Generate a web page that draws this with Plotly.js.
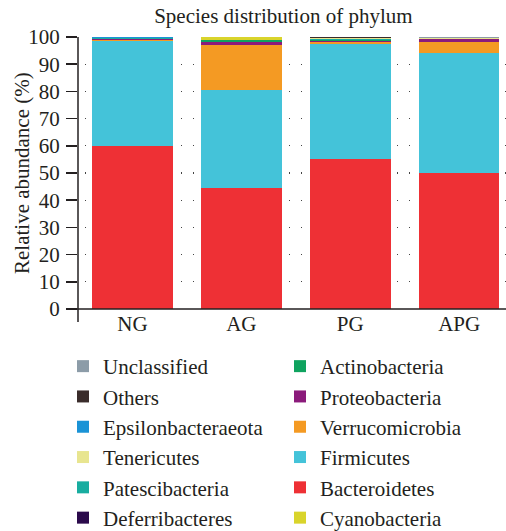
<!DOCTYPE html>
<html>
<head>
<meta charset="utf-8">
<script src="https://cdn.plot.ly/plotly-3.0.1.min.js"></script>
<style>html,body{margin:0;padding:0;background:#fff;}#chart{width:506px;height:531px;}</style>
</head>
<body>
<div id="chart"></div>
<script>
const groups = ["NG", "AG", "PG", "APG"];
// stacking order bottom -> top
const phyla = ["Bacteroidetes", "Firmicutes", "Verrucomicrobia", "Proteobacteria", "Actinobacteria",
  "Deferribacteres", "Patescibacteria", "Tenericutes", "Epsilonbacteraeota", "Others", "Unclassified", "Cyanobacteria"];
const Bacteroidetes      = [60.0, 44.5, 55.0, 50.0];
const Firmicutes         = [38.5, 36.0, 42.5, 44.0];
const Verrucomicrobia    = [0.4, 16.5, 0.5, 4.3];
const Proteobacteria     = [0.3, 1.0, 0.6, 0.8];
const Actinobacteria     = [0.2, 1.0, 0.2, 0.1];
const Deferribacteres    = [0.05, 0.0, 0.2, 0.1];
const Patescibacteria    = [0.3, 0.0, 0.4, 0.1];
const Tenericutes        = [0.05, 0.0, 0.2, 0.2];
const Epsilonbacteraeota = [0.05, 0.0, 0.2, 0.1];
const Others             = [0.05, 0.0, 0.1, 0.1];
const Unclassified       = [0.05, 0.0, 0.1, 0.2];
const Cyanobacteria      = [0.05, 1.0, 0.0, 0.0];
const values = {Bacteroidetes, Firmicutes, Verrucomicrobia, Proteobacteria, Actinobacteria,
  Deferribacteres, Patescibacteria, Tenericutes, Epsilonbacteraeota, Others, Unclassified, Cyanobacteria};
const colors = {
  Unclassified: "#8c9ca8", Others: "#3a2c2b", Epsilonbacteraeota: "#1a93d6", Tenericutes: "#e8e590",
  Patescibacteria: "#18ada0", Deferribacteres: "#2b0a4b", Actinobacteria: "#0fa35f", Proteobacteria: "#8b1b7b",
  Verrucomicrobia: "#f49a23", Firmicutes: "#44c3d9", Bacteroidetes: "#ee3035", Cyanobacteria: "#d9d42b"
};
// legend order (row-major, two columns)
const legendOrder = ["Unclassified", "Actinobacteria", "Others", "Proteobacteria", "Epsilonbacteraeota",
  "Verrucomicrobia", "Tenericutes", "Firmicutes", "Patescibacteria", "Bacteroidetes", "Deferribacteres", "Cyanobacteria"];

const FONT = "Liberation Serif, Times New Roman, serif";
const TXT = "#231f20";

const traces = phyla.map(p => ({
  type: "bar", name: p, x: groups, y: values[p],
  marker: {color: colors[p], line: {width: 0}},
  legendrank: legendOrder.indexOf(p) + 1
}));

const layout = {
  width: 506, height: 531,
  margin: {l: 78, r: 0, t: 37, b: 222, autoexpand: false},
  paper_bgcolor: "#fff", plot_bgcolor: "#fff",
  barmode: "stack", bargap: 0.26,
  font: {family: FONT, color: TXT, size: 21},
  title: {text: "Species distribution of phylum", font: {size: 21, family: FONT, color: TXT},
    x: 0.56, xanchor: "center", y: 0.97, yanchor: "middle"},
  xaxis: {range: [-0.5, 3.43], showgrid: false, showline: false, zeroline: false,
    ticks: "", tickfont: {size: 21}, fixedrange: true, automargin: false},
  yaxis: {range: [0, 100], dtick: 10, tick0: 0, showline: false, zeroline: false, automargin: false,
    ticks: "outside", ticklen: 11, tickwidth: 1.5, tickcolor: TXT, ticklabelstandoff: 2,
    showgrid: true, gridcolor: "#444", gridwidth: 1.2, griddash: "0px,7px,1px,4px",
    tickfont: {size: 21}},
  annotations: [
    {text: "Relative abundance (%)", xref: "paper", yref: "paper", x: (22 - 78) / 428, y: 0.5,
      xanchor: "center", yanchor: "middle", textangle: -90, showarrow: false,
      font: {size: 21, family: FONT, color: TXT}}
  ],
  showlegend: true,
  legend: {orientation: "h", x: -0.035, xanchor: "left", y: -0.136, yanchor: "top",
    traceorder: "normal", entrywidth: 172, entrywidthmode: "pixels",
    font: {size: 21, family: FONT, color: TXT}, bgcolor: "rgba(0,0,0,0)"},
  shapes: [
    {type: "line", xref: "paper", yref: "paper", x0: 0, x1: 0, y0: -13/272, y1: 1,
      line: {color: TXT, width: 1.5}},
    {type: "line", xref: "paper", yref: "paper", x0: -11/428, x1: 1, y0: 0, y1: 0,
      line: {color: TXT, width: 1.5}}
  ]
};

Plotly.newPlot("chart", traces, layout, {staticPlot: true, displayModeBar: false});
</script>
</body>
</html>
